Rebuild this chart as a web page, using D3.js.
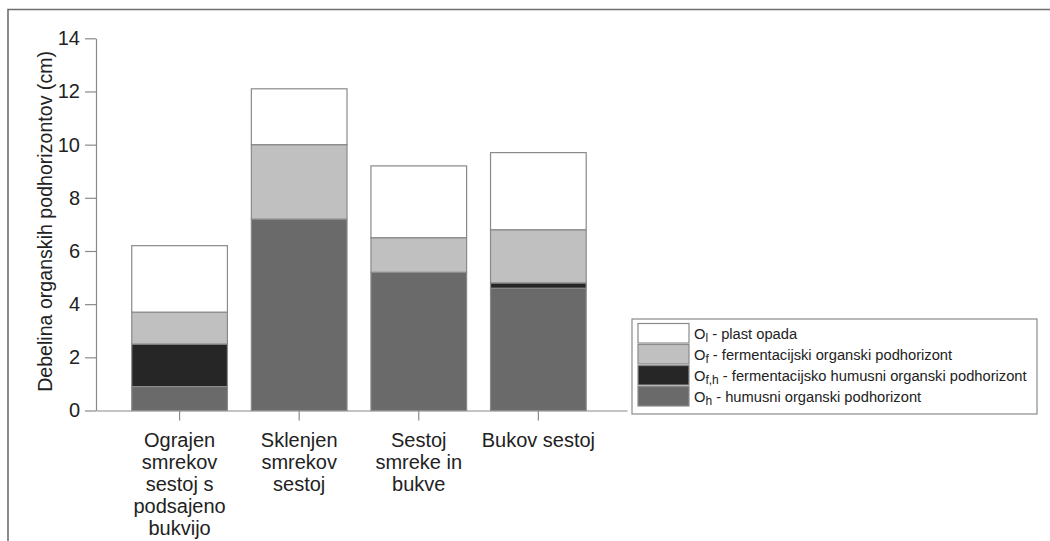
<!DOCTYPE html>
<html>
<head>
<meta charset="utf-8">
<script src="https://cdn.jsdelivr.net/npm/d3@7"></script>
<style>
  body { margin: 0; background: #fff; }
  svg { display: block; font-family: "Liberation Sans", Arial, sans-serif; }
</style>
</head>
<body>
<div id="chart"></div>
<script>
// data
const categories = [
    "Ograjen smrekov sestoj s podsajeno bukvijo",
    "Sklenjen smrekov sestoj",
    "Sestoj smreke in bukve",
    "Bukov sestoj"
];
const layerKeys = ["Oh", "Ofh", "Of", "Ol"]; // bottom -> top
const valuesOh = [0.9, 7.2, 5.2, 4.6];
const valuesOfh = [1.6, 0, 0, 0.2];
const valuesOf = [1.2, 2.8, 1.3, 2.0];
const valuesOl = [2.5, 2.1, 2.7, 2.9];
const yTicks = [0, 2, 4, 6, 8, 10, 12, 14];
const yLabel = "Debelina organskih podhorizontov (cm)";
// legend entries, top -> bottom: [key, main letter, subscript, rest]
const legendItems = [
    ["Ol", "O", "l", " - plast opada"],
    ["Of", "O", "f", " - fermentacijski organski podhorizont"],
    ["Ofh", "O", "f,h", " - fermentacijsko humusni organski podhorizont"],
    ["Oh", "O", "h", " - humusni organski podhorizont"]
];

const width = 1050, height = 541;
const fills = { Ol: "#ffffff", Of: "#c0c0c0", Ofh: "#262626", Oh: "#6a6a6a" };

const table = categories.map((c, i) => ({
    cat: c, Oh: valuesOh[i], Ofh: valuesOfh[i], Of: valuesOf[i], Ol: valuesOl[i]
}));

const svg = d3.select("#chart").append("svg")
    .attr("width", width)
    .attr("height", height);

// outer frame (cut off on the right and bottom)
svg.append("path")
    .attr("d", `M8,${height} V9.5 H${width}`)
    .attr("fill", "none")
    .attr("stroke", "#6e6e6e")
    .attr("stroke-width", 1.6);

const x = d3.scaleBand()
    .domain(categories)
    .range([96, 627])
    .paddingInner(0.2)
    .paddingOuter(0.32)
    .align(0.467);

const y = d3.scaleLinear()
    .domain([0, 14])
    .range([410.5, 38.3]);

// stacked bars
const series = d3.stack().keys(layerKeys)(table);

svg.append("g")
    .selectAll("g")
    .data(series)
    .join("g")
    .attr("fill", d => fills[d.key])
    .selectAll("rect")
    .data(d => d.filter(p => p[1] - p[0] > 0))
    .join("rect")
    .attr("x", d => x(d.data.cat))
    .attr("y", d => y(d[1]))
    .attr("width", x.bandwidth())
    .attr("height", d => y(d[0]) - y(d[1]))
    .attr("stroke", "#8a8a8a")
    .attr("stroke-width", 1.2);

// y axis
const yAxis = svg.append("g")
    .attr("transform", "translate(96,0)")
    .call(d3.axisLeft(y).tickValues(yTicks).tickSize(11).tickSizeOuter(0).tickPadding(5));
yAxis.select(".domain").attr("stroke", "#8a8a8a").attr("stroke-width", 1.2);
yAxis.selectAll(".tick line").attr("stroke", "#8a8a8a").attr("stroke-width", 1.2);
yAxis.selectAll(".tick text")
    .attr("fill", "#222")
    .style("font-size", "20px")
    .style("font-family", "'Liberation Sans', Arial, sans-serif");

// x axis
const xAxis = svg.append("g")
    .attr("transform", `translate(0,${y(0)})`)
    .call(d3.axisBottom(x).tickSize(10).tickSizeOuter(0).tickPadding(12));
xAxis.select(".domain").attr("stroke", "#8a8a8a").attr("stroke-width", 1.2);
xAxis.selectAll(".tick line").attr("stroke", "#8a8a8a").attr("stroke-width", 1.2);
xAxis.selectAll(".tick text")
    .attr("fill", "#222")
    .style("font-size", "20px")
    .style("font-family", "'Liberation Sans', Arial, sans-serif")
    .call(wrap, 118);

// y axis title
svg.append("text")
    .attr("transform", `translate(51.5,${(y(0) + y(14)) / 2 - 3}) rotate(-90)`)
    .attr("text-anchor", "middle")
    .attr("fill", "#222")
    .style("font-size", "19.6px")
    .text(yLabel);

// legend
const lg = svg.append("g").attr("transform", "translate(632,319)");
lg.append("rect")
    .attr("width", 405)
    .attr("height", 95)
    .attr("fill", "#fff")
    .attr("stroke", "#8a8a8a")
    .attr("stroke-width", 1.2);

const rows = lg.selectAll("g.row")
    .data(legendItems)
    .join("g")
    .attr("class", "row")
    .attr("transform", (d, i) => `translate(6,${4.5 + i * 21})`);

rows.append("rect")
    .attr("width", 51)
    .attr("height", 19.5)
    .attr("fill", d => fills[d[0]])
    .attr("stroke", "#8a8a8a")
    .attr("stroke-width", 1.2);

const lt = rows.append("text")
    .attr("x", 56)
    .attr("y", 15)
    .attr("fill", "#222")
    .style("font-size", "14.7px");
lt.append("tspan").text(d => d[1]);
lt.append("tspan").attr("dy", 3).style("font-size", "12px").text(d => d[2]);
lt.append("tspan").attr("dy", -3).text(d => d[3]);

function wrap(texts, w) {
    texts.each(function () {
        const text = d3.select(this);
        const words = text.text().split(/\s+/);
        const yy = text.attr("y");
        const dy = parseFloat(text.attr("dy"));
        text.text(null);
        let line = [];
        let lineNo = 0;
        let tspan = text.append("tspan").attr("x", 0).attr("y", yy).attr("dy", dy + "em");
        for (const word of words) {
            line.push(word);
            tspan.text(line.join(" "));
            if (tspan.node().getComputedTextLength() > w && line.length > 1) {
                line.pop();
                tspan.text(line.join(" "));
                line = [word];
                lineNo++;
                tspan = text.append("tspan").attr("x", 0).attr("y", yy)
                    .attr("dy", (lineNo * 1.1 + dy) + "em").text(word);
            }
        }
    });
}
</script>
</body>
</html>
